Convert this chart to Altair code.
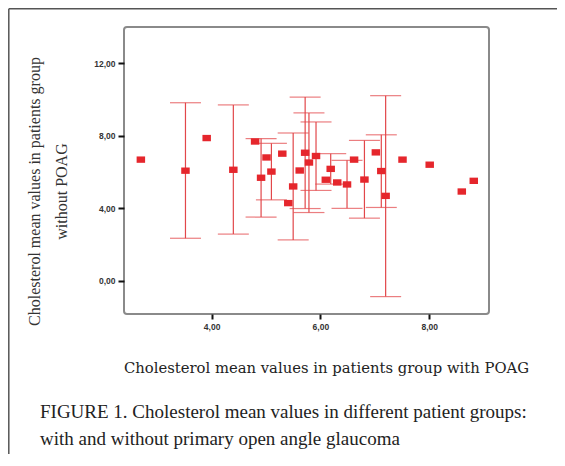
import altair as alt
import pandas as pd

# Groups drawn with a confidence interval bar
bar_x = [3.52, 4.40, 4.91, 5.10, 5.50, 5.72, 5.79, 5.92, 6.19, 6.49, 6.81, 7.12, 7.20]
bar_mean = [6.07, 6.12, 5.68, 6.02, 5.20, 7.06, 6.52, 6.88, 6.17, 5.31, 5.58, 6.05, 4.68]
bar_low = [2.34, 2.57, 3.51, 4.46, 2.25, 3.98, 3.76, 4.98, 5.33, 3.99, 3.45, 4.04, -0.88]
bar_high = [9.82, 9.70, 7.84, 7.58, 8.15, 10.13, 9.26, 8.76, 7.01, 6.64, 7.74, 8.05, 10.21]

# Groups drawn as a single point only
pt_x = [2.70, 3.91, 4.80, 5.01, 5.30, 5.41, 5.62, 6.10, 6.31, 6.62, 7.02, 7.51, 8.01, 8.60, 8.82]
pt_y = [6.68, 7.87, 7.68, 6.80, 7.01, 4.28, 6.08, 5.57, 5.42, 6.68, 7.08, 6.68, 6.40, 4.92, 5.51]

x_ticks = [4, 6, 8]
y_ticks = [0, 4, 8, 12]
x_title = "Cholesterol mean values in patients group with POAG"
y_title = ["Cholesterol mean values in patients group", "without POAG"]
caption = ["FIGURE 1. Cholesterol mean values in different patient groups:",
           "with and without primary open angle glaucoma"]

bars = pd.DataFrame({"x": bar_x, "mean": bar_mean, "low": bar_low, "high": bar_high})
points = pd.DataFrame({"x": bar_x + pt_x, "y": bar_mean + pt_y})

RED = "#e5262c"
LINE = "#e2474a"
label_expr = "replace(format(datum.value, '.2f'), '.', ',')"

xs = alt.Scale(domain=[2.39, 9.10], nice=False, zero=False)
ys = alt.Scale(domain=[-1.84, 14.0], nice=False, zero=False)

xaxis = alt.Axis(values=x_ticks, labelExpr=label_expr, title=x_title,
                 titleFont="DejaVu Serif", titleFontSize=14.8, titleFontWeight="normal",
                 titleColor="#222222", titleX=202, titleY=58, titleBaseline="alphabetic",
                 labelFont="Liberation Sans", labelFontSize=8.5, labelFontWeight="bold",
                 labelColor="#333333", labelPadding=3,
                 tickSize=5, tickWidth=2, tickColor="#111111", domain=False, grid=False)
yaxis = alt.Axis(values=y_ticks, labelExpr=label_expr, title=y_title,
                 titleFont="Liberation Serif", titleFontSize=16, titleFontWeight="normal",
                 titleColor="#333333", titleX=-85, titleY=164, titleAngle=270,
                 titleBaseline="alphabetic", titleLineHeight=27, titleAlign="center",
                 labelFont="Liberation Sans", labelFontSize=8.5, labelFontWeight="bold",
                 labelColor="#333333", labelPadding=3,
                 tickSize=6, tickWidth=2, tickColor="#111111", domain=False, grid=False)

base_bars = alt.Chart(bars)
rules = base_bars.mark_rule(color=LINE, strokeWidth=1.2).encode(
    x=alt.X("x:Q", scale=xs, axis=xaxis),
    y=alt.Y("low:Q", scale=ys, axis=yaxis),
    y2="high:Q",
)
cap_low = base_bars.mark_tick(color=LINE, orient="horizontal", size=31, thickness=1.2).encode(
    x=alt.X("x:Q", scale=xs), y=alt.Y("low:Q", scale=ys))
cap_high = base_bars.mark_tick(color=LINE, orient="horizontal", size=31, thickness=1.2).encode(
    x=alt.X("x:Q", scale=xs), y=alt.Y("high:Q", scale=ys))

pts = alt.Chart(points).mark_point(
    shape="M-1.2,-0.9L1.2,-0.9L1.2,0.9L-1.2,0.9Z", size=50,
    filled=True, color=RED, opacity=1,
).encode(x=alt.X("x:Q", scale=xs), y=alt.Y("y:Q", scale=ys))

one = pd.DataFrame({"k": [0]})
frame_v = alt.Chart(one).mark_rule(color="#555555", strokeWidth=1.5).encode(
    x=alt.value(-115.2), y=alt.value(-18.2), y2=alt.value(440))
frame_h = alt.Chart(one).mark_rule(color="#555555", strokeWidth=1.5).encode(
    x=alt.value(-115.2), x2=alt.value(445), y=alt.value(-18.2))

cap_df = pd.DataFrame({"t": ["\n".join(caption)]})
cap_text = alt.Chart(cap_df).mark_text(
    align="left", baseline="alphabetic", font="Liberation Serif", fontSize=19,
    lineHeight=27, lineBreak="\n", color="#222222",
).encode(x=alt.value(-84), y=alt.value(391), text="t:N")

chart = alt.layer(frame_v, frame_h, rules, cap_low, cap_high, pts, cap_text).properties(
    width=365, height=287,
    autosize=alt.AutoSizeParams(type="none"),
    padding={"left": 116, "top": 19, "right": 68, "bottom": 140},
    background="white",
).configure_view(stroke="#8a8a8a", strokeWidth=2, cornerRadius=3)

chart.save("out.html", embed_options={"renderer": "svg", "actions": False})
